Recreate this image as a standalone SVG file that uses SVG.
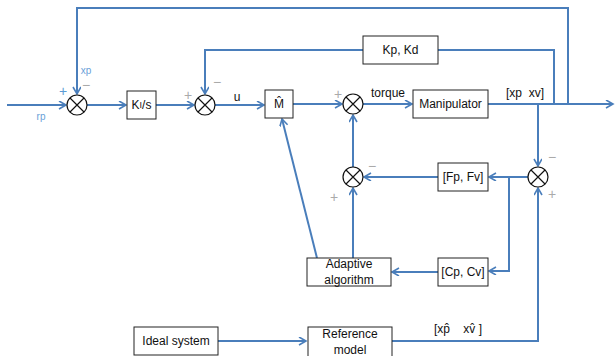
<svg xmlns="http://www.w3.org/2000/svg" width="615" height="356" viewBox="0 0 615 356">
<style>
.ln{fill:none;stroke:#4a7ebb;stroke-width:2}
.box{fill:#fff;stroke:#222;stroke-width:1}
.t{font-family:"Liberation Sans",Arial,sans-serif;font-size:12px;fill:#111;text-anchor:middle;dominant-baseline:central}
.s{font-family:"Liberation Sans",Arial,sans-serif;font-size:14px;fill:#aaa;text-anchor:middle;dominant-baseline:central}
.b{font-family:"Liberation Sans",Arial,sans-serif;font-size:10px;fill:#6a9fd8;text-anchor:middle;dominant-baseline:central}
</style>
<defs>
<marker id="a" markerWidth="10" markerHeight="10" refX="8" refY="4" orient="auto" markerUnits="userSpaceOnUse">
<path d="M1,0 L8,4 L1,8" fill="none" stroke="#4a7ebb" stroke-width="1.6"/>
</marker>
<g id="x"><circle r="10" fill="#fff" stroke="#111" stroke-width="1.2"/><path d="M-7,-7 L7,7 M-7,7 L7,-7" stroke="#111" stroke-width="1.2"/></g>
</defs>
<g id="connectors">
<path class="ln" d="M7,105 H66" marker-end="url(#a)"/>
<path class="ln" d="M568,104 V8 H77 V94" marker-end="url(#a)"/>
<path class="ln" d="M87,105 H126" marker-end="url(#a)"/>
<path class="ln" d="M156,105 H194" marker-end="url(#a)"/>
<path class="ln" d="M554,104 V50 H438"/>
<path class="ln" d="M363,50 H205 V94" marker-end="url(#a)"/>
<path class="ln" d="M215,105 H264" marker-end="url(#a)"/>
<path class="ln" d="M293,104 H342" marker-end="url(#a)"/>
<path class="ln" d="M363,104 H412" marker-end="url(#a)"/>
<path class="ln" d="M488,104 H613" marker-end="url(#a)"/>
<path class="ln" d="M538,104 V166" marker-end="url(#a)"/>
<path class="ln" d="M528,177 H489" marker-end="url(#a)"/>
<path class="ln" d="M438,177 H364" marker-end="url(#a)"/>
<path class="ln" d="M353,167 V115" marker-end="url(#a)"/>
<path class="ln" d="M509,177 V271 H489" marker-end="url(#a)"/>
<path class="ln" d="M438,272 H392" marker-end="url(#a)"/>
<path class="ln" d="M353,258 V188" marker-end="url(#a)"/>
<path class="ln" d="M317,258 L282,119" marker-end="url(#a)"/>
<path class="ln" d="M218,341 H306" marker-end="url(#a)"/>
<path class="ln" d="M392,341 H538 V188" marker-end="url(#a)"/>
</g>
<g id="sum1"><use href="#x" x="77" y="105"/></g>
<g id="sum2"><use href="#x" x="205" y="105"/></g>
<g id="sum3"><use href="#x" x="353" y="104"/></g>
<g id="sum4"><use href="#x" x="538" y="177"/></g>
<g id="sum5"><use href="#x" x="353" y="177"/></g>
<g id="ki"><rect class="box" x="127" y="91" width="29" height="28"/><text class="t" x="141.5" y="105">K<tspan font-size="9">I</tspan>/s</text></g>
<g id="mhat"><rect class="box" x="265" y="90" width="28" height="28"/><text class="t" x="279" y="104">M̂</text></g>
<g id="kpkd"><rect class="box" x="363" y="36" width="75" height="28"/><text class="t" x="400.5" y="50">Kp, Kd</text></g>
<g id="manip"><rect class="box" x="413" y="90" width="75" height="28"/><text class="t" x="450.5" y="104">Manipulator</text></g>
<g id="fpfv"><rect class="box" x="438" y="163" width="50" height="28"/><text class="t" x="463" y="177">[Fp, Fv]</text></g>
<g id="cpcv"><rect class="box" x="438" y="258" width="50" height="28"/><text class="t" x="463" y="272">[Cp, Cv]</text></g>
<g id="adaptive"><rect class="box" x="307" y="258" width="84" height="28"/><text class="t" x="349" y="264">Adaptive</text><text class="t" x="349" y="280">algorithm</text></g>
<g id="refmodel"><rect class="box" x="308" y="327" width="84" height="30"/><text class="t" x="350" y="334">Reference</text><text class="t" x="350" y="350">model</text></g>
<g id="ideal"><rect class="box" x="134" y="327" width="84" height="28"/><text class="t" x="176" y="341">Ideal system</text></g>
<g id="labels">
<text class="b" x="41" y="116">rp</text>
<text class="b" x="86" y="70">xp</text>
<text class="s" x="63" y="91" style="fill:#5b9bd5">+</text>
<text class="s" x="86" y="85">−</text>
<text class="s" x="188" y="95">+</text>
<text class="s" x="217" y="82">−</text>
<text class="t" x="237" y="97">u</text>
<text class="s" x="338" y="94">+</text>
<text class="t" x="388" y="93">torque</text>
<text class="t" x="525" y="93" xml:space="preserve">[xp  xv]</text>
<text class="s" x="552" y="157">−</text>
<text class="s" x="552" y="194">+</text>
<text class="s" x="372" y="166">−</text>
<text class="s" x="334" y="197">+</text>
<text class="t" x="458" y="329" xml:space="preserve">[xp̂    xv̂ ]</text>
</g>
</svg>
